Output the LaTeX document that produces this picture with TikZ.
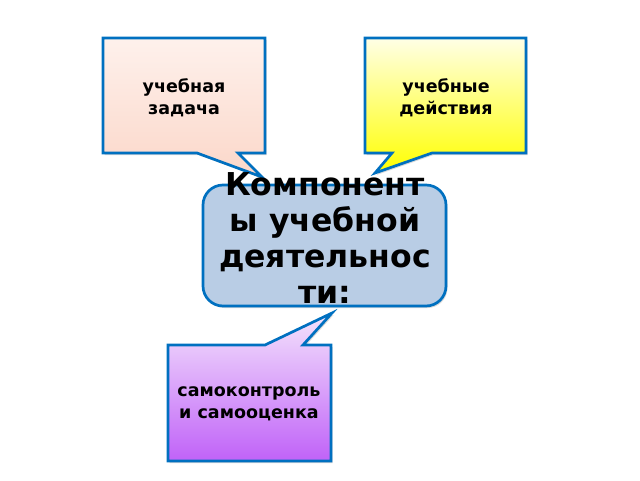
\documentclass[tikz,border=0pt]{standalone}
\usepackage{fontspec}
\setmainfont{DejaVu Sans}
\usetikzlibrary{shadows}
\definecolor{rimblue}{HTML}{0070C0}
\definecolor{boxblue}{HTML}{B9CDE5}
\definecolor{pinktop}{HTML}{FEF1EC}
\definecolor{pinkbot}{HTML}{FBD7C9}
\definecolor{yeltop}{HTML}{FFFFE6}
\definecolor{yelbot}{HTML}{FFFF00}
\definecolor{lilatop}{HTML}{F4E4FC}
\definecolor{lilabot}{HTML}{C062F8}

\begin{document}
\begin{tikzpicture}[x=1pt, y=-1pt,
  callout/.style={draw=rimblue, line width=2.7pt, line join=miter,
    drop shadow={opacity=0.3, shadow xshift=1.5pt, shadow yshift=-2pt}},
  lbl/.style={font=\bfseries\fontsize{17.5}{21.5}\selectfont, align=center},
  title/.style={font=\bfseries\fontsize{31.5}{36}\selectfont, align=center}]
\useasboundingbox (0,0) rectangle (640,480);
\path [callout, top color=pinktop, bottom color=pinkbot] (103,38) -- (265,38) -- (265,153) -- (238,153) -- (262,177) -- (197,153) -- (103,153) -- cycle;
\path [callout, top color=yeltop, bottom color=yelbot] (365,38) -- (526,38) -- (526,153) -- (432,153) -- (375,173) -- (392,153) -- (365,153) -- cycle;
\path [callout, top color=lilatop, bottom color=lilabot] (168,345) -- (265,345) -- (332,313) -- (303,345) -- (331,345) -- (331,461) -- (168,461) -- cycle;
\path [callout, fill=boxblue, rounded corners=20pt] (203,185) rectangle (446,306);
\node (task) at (184,98) [lbl] {учебная\\задача};
\node (actions) at (446,98) [lbl] {учебные\\действия};
\node (components) at (325,238) [title] {Компонент\\ы учебной\\деятельнос\\ти:};
\node (control) at (249,404) [lbl] {самоконтроль\\и самооценка};
\end{tikzpicture}
\end{document}
